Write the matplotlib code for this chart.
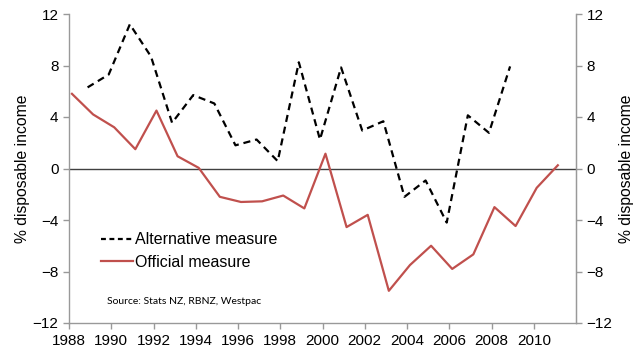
import numpy as np
import matplotlib.pyplot as plt
from matplotlib.lines import Line2D

plt.rcParams["font.family"] = ["Liberation Sans", "DejaVu Sans"]

# data
alt_years = np.arange(1988, 2009)
alt_values = [6.3, 7.3, 11.2, 8.7, 3.55, 5.7, 5.05, 1.8, 2.25, 0.57, 8.25,
              2.25, 7.85, 2.95, 3.67, -2.2, -0.93, -4.2, 4.13, 2.77, 7.93]

off_years = np.arange(1988, 2012)
off_values = [5.8, 4.2, 3.2, 1.5, 4.5, 0.95, 0.05, -2.2, -2.6, -2.55, -2.1,
              -3.1, 1.15, -4.55, -3.6, -9.5, -7.5, -6.0, -7.8, -6.67, -3.0,
              -4.47, -1.5, 0.25]

# alternative series sits near year end, official near the start of the year
alt_x = alt_years + 0.88
off_x = off_years + 0.14

xticks = list(range(1988, 2011, 2))
yticks = list(range(-12, 13, 4))

red = "#C0504D"
grey = "#999999"
fs = 11

fig = plt.figure(figsize=(6.41, 3.52), dpi=100)
ax1 = fig.add_axes([69 / 641, 1 - 323 / 352, (576 - 69) / 641, (323 - 14) / 352])

ax1.plot(alt_x, alt_values, color="black", linewidth=1.6, dashes=(3.2, 2.2))
ax1.plot(off_x, off_values, color=red, linewidth=1.6)
ax1.axhline(0, color="#404040", linewidth=1.0, zorder=0)

ax1.set_xlim(1988, 2012)
ax1.set_ylim(-12, 12)
ax1.set_xticks(xticks)
ax1.set_yticks(yticks)

ax1.spines["top"].set_visible(False)
for side in ["left", "right", "bottom"]:
    ax1.spines[side].set_color(grey)
    ax1.spines[side].set_linewidth(1.0)

ax1.tick_params(axis="both", colors=grey, labelcolor="black", labelsize=fs,
                length=4, width=1.0, direction="out")
ax1.tick_params(axis="x", pad=4)

ax2 = ax1.twinx()
ax2.set_ylim(-12, 12)
ax2.set_yticks(yticks)
ax2.spines["top"].set_visible(False)
ax2.spines["right"].set_color(grey)
ax2.spines["left"].set_visible(False)
ax2.spines["bottom"].set_visible(False)
ax2.tick_params(axis="y", colors=grey, labelcolor="black", labelsize=fs,
                length=4, width=1.0, direction="out")

ax1.set_ylabel("% disposable income", fontsize=11.3, labelpad=2)
ax2.set_ylabel("% disposable income", fontsize=11.3, rotation=90, labelpad=5)

handles = [Line2D([0], [0], color="black", linewidth=1.6, dashes=(2.2, 1.6)),
           Line2D([0], [0], color=red, linewidth=1.6)]
ax1.legend(handles, ["Alternative measure", "Official measure"],
           loc="upper left", bbox_to_anchor=(0.035, 0.34), frameon=False,
           fontsize=11.5, handlelength=2.0, handletextpad=0.15,
           labelspacing=0.45)

fig.text(107 / 641, 1 - 302 / 352, "Source: Stats NZ, RBNZ, Westpac",
         fontsize=7.5, family=["Lato", "DejaVu Sans"], va="center")

fig.savefig("out.png", dpi=100)
